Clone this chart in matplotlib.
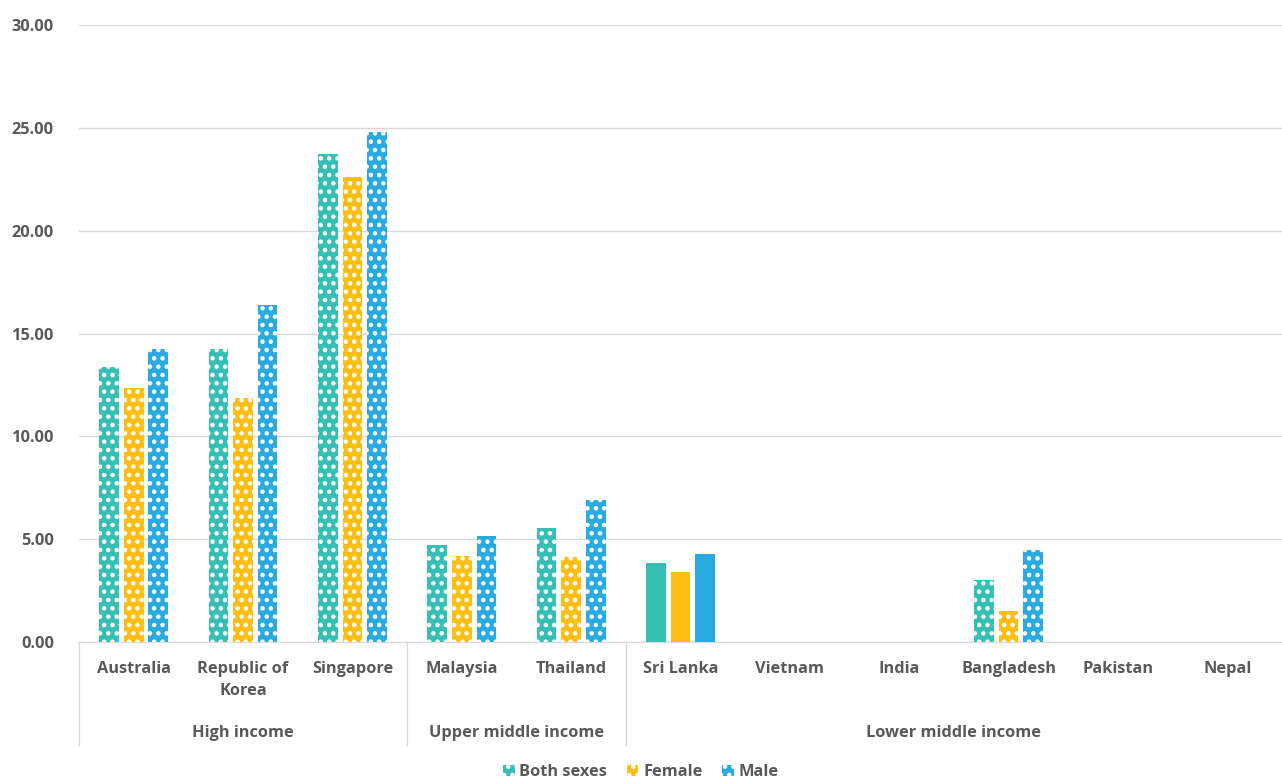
import matplotlib.pyplot as plt
import numpy as np

plt.rcParams['font.family'] = ['Open Sans', 'DejaVu Sans']
plt.rcParams['hatch.color'] = 'white'
plt.rcParams['hatch.linewidth'] = 2.0

countries = ['Australia', 'Republic of\nKorea', 'Singapore', 'Malaysia', 'Thailand',
             'Sri Lanka', 'Vietnam', 'India', 'Bangladesh', 'Pakistan', 'Nepal']
groups = ['High income', 'Upper middle income', 'Lower middle income']
group_sizes = [3, 2, 6]
nan = np.nan
both = [13.35, 14.25, 23.75, 4.70, 5.55, 3.85, nan, nan, 3.00, nan, nan]
female = [12.35, 11.85, 22.60, 4.20, 4.15, 3.40, nan, nan, 1.50, nan, nan]
male = [14.25, 16.40, 24.80, 5.15, 6.90, 4.30, nan, nan, 4.45, nan, nan]
series = ['Both sexes', 'Female', 'Male']
colors = ['#36BFB5', '#FDBE13', '#29ABE2']
solid = ['Sri Lanka']

gray = '#595959'
fs = 11.8
fig = plt.figure(figsize=(12.82, 7.84), dpi=100)
ax = fig.add_axes([79 / 1282, 1 - 642 / 784, 1 - 79 / 1282, (642 - 25) / 784])

x = np.arange(len(countries))
w = 0.18
offs = [-0.225, 0, 0.225]
for vals, col, off, lab in zip([both, female, male], colors, offs, series):
    bars = ax.bar(x + off, vals, w, color=col, hatch='..', linewidth=0, label=lab)
    for b, c in zip(bars, countries):
        if c in solid:
            b.set_hatch(None)

ax.set_xlim(-0.5, len(countries) - 0.5)
ax.set_ylim(0, 30)
ax.set_yticks(np.arange(0, 31, 5))
ax.yaxis.set_major_formatter(plt.FuncFormatter(lambda v, p: f'{v:.2f}'))
ax.grid(axis='y', color='#D9D9D9', linewidth=1)
ax.set_axisbelow(True)
for s in ['top', 'right', 'left']:
    ax.spines[s].set_visible(False)
ax.spines['bottom'].set_color('#D9D9D9')
ax.tick_params(axis='y', length=0, pad=18, labelsize=fs, labelcolor=gray)
for t in ax.get_yticklabels():
    t.set_fontweight('bold')
ax.set_xticks([])

trans = ax.get_xaxis_transform()
for i, c in enumerate(countries):
    ax.text(i, -0.03, c, transform=trans, ha='center', va='top', fontsize=fs,
            fontweight='bold', color=gray, linespacing=1.55)

start = 0
bounds = [-0.5]
for g, n in zip(groups, group_sizes):
    ax.text(start + (n - 1) / 2, -0.135, g, transform=trans, ha='center', va='top',
            fontsize=fs, fontweight='bold', color=gray)
    start += n
    bounds.append(start - 0.5)
for b in bounds[:-1]:
    ax.plot([b, b], [0, -0.167], transform=trans, color='#D9D9D9', lw=1, clip_on=False)

leg = fig.legend(loc='lower center', bbox_to_anchor=(0.5, -0.014), ncol=3, frameon=False,
                 fontsize=fs, handlelength=0.7, handleheight=0.7, handletextpad=0.3,
                 columnspacing=1.2)
for t in leg.get_texts():
    t.set_fontweight('bold')
    t.set_color(gray)

fig.savefig('out.png', dpi=100)
